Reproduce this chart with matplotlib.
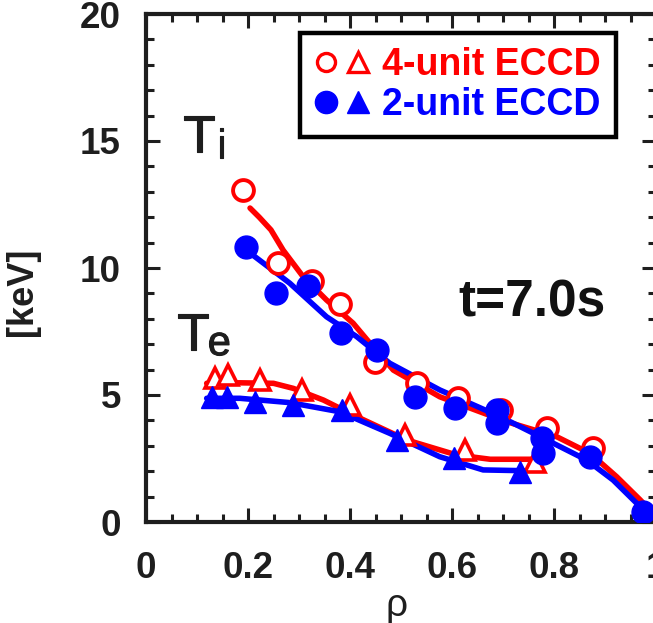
import matplotlib
matplotlib.use("Agg")
import matplotlib.pyplot as plt
import matplotlib.patheffects as pe
from matplotlib.lines import Line2D
from matplotlib.legend_handler import HandlerTuple
from matplotlib.ticker import MultipleLocator

plt.rcParams["font.family"] = ["Liberation Sans", "DejaVu Sans"]

# Ti, 4-unit ECCD (open circles)
ti4_rho = [0.19, 0.259, 0.325, 0.38, 0.449, 0.531, 0.612, 0.697, 0.786, 0.877]
ti4_val = [13.07, 10.2, 9.5, 8.6, 6.3, 5.46, 4.88, 4.41, 3.69, 2.91]
# Ti, 2-unit ECCD (filled circles)
ti2_rho = [0.197, 0.255, 0.318, 0.382, 0.452, 0.527, 0.606, 0.688, 0.688, 0.776, 0.779, 0.871, 0.975]
ti2_val = [10.84, 9.0, 9.29, 7.43, 6.77, 4.93, 4.48, 4.41, 3.89, 3.3, 2.7, 2.57, 0.4]
# Te, 4-unit ECCD (open triangles)
te4_rho = [0.135, 0.161, 0.224, 0.305, 0.4, 0.508, 0.625, 0.763]
te4_val = [5.66, 5.79, 5.59, 5.2, 4.6, 3.43, 2.83, 2.37]
# Te, 2-unit ECCD (filled triangles)
te2_rho = [0.129, 0.158, 0.214, 0.289, 0.384, 0.492, 0.603, 0.733]
te2_val = [4.93, 4.93, 4.74, 4.6, 4.41, 3.23, 2.51, 1.98]

# fitted profiles
ti4_fit_rho = [0.204, 0.222, 0.245, 0.269, 0.308, 0.354, 0.406, 0.445, 0.485, 0.576, 0.707, 0.805, 0.871, 0.923, 0.969, 0.988]
ti4_fit_val = [12.36, 12.0, 11.5, 10.7, 9.66, 8.74, 7.83, 6.9, 5.98, 4.93, 3.95, 3.36, 2.7, 1.78, 0.87, 0.47]
ti2_fit_rho = [0.21, 0.282, 0.354, 0.413, 0.478, 0.576, 0.694, 0.773, 0.864, 0.916, 0.962, 0.988]
ti2_fit_val = [10.5, 9.4, 8.08, 7.3, 6.25, 5.2, 4.15, 3.36, 2.44, 1.65, 0.74, 0.34]
te4_fit_rho = [0.119, 0.184, 0.25, 0.289, 0.348, 0.413, 0.511, 0.609, 0.675, 0.773]
te4_fit_val = [5.46, 5.48, 5.46, 5.26, 4.8, 4.15, 3.23, 2.64, 2.47, 2.47]
te2_fit_rho = [0.119, 0.184, 0.282, 0.38, 0.478, 0.576, 0.661, 0.74]
te2_fit_val = [4.87, 4.87, 4.7, 4.34, 3.49, 2.57, 2.05, 2.02]

red = "#ff0000"
blue = "#0000ff"
ink = "#1e1e1e"

fig = plt.figure(figsize=(6.53, 6.23), dpi=100)
ax = fig.add_axes([146 / 653, 101 / 623, 510 / 653, 508 / 623])

# lines first, then markers on top
ax.plot(ti4_fit_rho, ti4_fit_val, color=red, lw=4, solid_capstyle="round", solid_joinstyle="round", zorder=2)
ax.plot(te4_fit_rho, te4_fit_val, color=red, lw=4, solid_capstyle="round", solid_joinstyle="round", zorder=2)
ax.plot(ti2_fit_rho, ti2_fit_val, color=blue, lw=4, solid_capstyle="round", solid_joinstyle="round", zorder=2)
ax.plot(te2_fit_rho, te2_fit_val, color=blue, lw=4, solid_capstyle="round", solid_joinstyle="round", zorder=2)

ax.plot(ti4_rho, ti4_val, "o", ms=15, mfc="white", mec=red, mew=2.8, zorder=3)
ax.plot(te4_rho, te4_val, "^", ms=15, mfc="white", mec=red, mew=2.6, zorder=3)
ax.plot(ti2_rho, ti2_val, "o", ms=16.5, mfc=blue, mec=blue, zorder=4)
ax.plot(te2_rho, te2_val, "^", ms=16.5, mfc=blue, mec=blue, zorder=4)

ax.set_xlim(0, 1.0)
ax.set_ylim(0, 20)
ax.xaxis.set_minor_locator(MultipleLocator(0.05))
ax.yaxis.set_major_locator(MultipleLocator(5))
ax.yaxis.set_minor_locator(MultipleLocator(1))
ax.set_xticks([0, 0.2, 0.4, 0.6, 0.8, 1.0])
ax.set_xticklabels(["0", "0.2", "0.4", "0.6", "0.8", "1"])
ax.tick_params(which="both", direction="in", top=True, right=True, width=2.2, color=ink)
ax.tick_params(which="major", length=10, labelsize=26.5, pad=18)
ax.tick_params(which="minor", length=6)
ax.tick_params(axis="x", which="major", pad=21)
for lab in ax.get_xticklabels() + ax.get_yticklabels():
    lab.set_fontweight("bold")
    lab.set_color(ink)
for sp in ax.spines.values():
    sp.set_linewidth(3)
    sp.set_color(ink)

ax.set_ylabel("[keV]", fontsize=26, fontweight="bold", color=ink)
ax.yaxis.set_label_coords(-0.208, (522 - 292) / 508)
fig.text(397 / 653, 1 - 606 / 623, "ρ", fontsize=28, ha="center", va="center", color=ink)

# profile labels
thick = [pe.withStroke(linewidth=0.8, foreground=ink)]
ax.text(0.0725, 14.57, "T", fontsize=38, color=ink, va="baseline", path_effects=thick)
ax.text(0.139, 14.33, "i", fontsize=30, color=ink, va="baseline", path_effects=thick)
ax.text(0.061, 6.77, "T", fontsize=38, color=ink, va="baseline", path_effects=thick)
ax.text(0.121, 6.57, "e", fontsize=30, color=ink, va="baseline", path_effects=thick)
ax.text(0.612, 8.11, "t=7.0s", fontsize=37, fontweight="bold", color="#111111", va="baseline")

handles = [
    (Line2D([], [], ls="none", marker="o", ms=13, mfc="white", mec=red, mew=2.4),
     Line2D([], [], ls="none", marker="^", ms=14, mfc="white", mec=red, mew=2.4)),
    (Line2D([], [], ls="none", marker="o", ms=16, mfc=blue, mec=blue),
     Line2D([], [], ls="none", marker="^", ms=16, mfc=blue, mec=blue)),
]
leg = ax.legend(handles, ["4-unit ECCD", "2-unit ECCD"],
                handler_map={tuple: HandlerTuple(ndivide=None, pad=0.2)},
                loc="upper left", bbox_to_anchor=((300 - 146) / 510, (522 - 33) / 508),
                borderaxespad=0, fancybox=False, framealpha=1, edgecolor="black",
                prop={"size": 27, "weight": "bold"}, labelcolor=[red, blue],
                handlelength=1.5, handletextpad=0.32, borderpad=0.38, labelspacing=0.1)
leg.get_frame().set_linewidth(3.2)
leg.set_zorder(5)

fig.savefig("out.png", dpi=100)
